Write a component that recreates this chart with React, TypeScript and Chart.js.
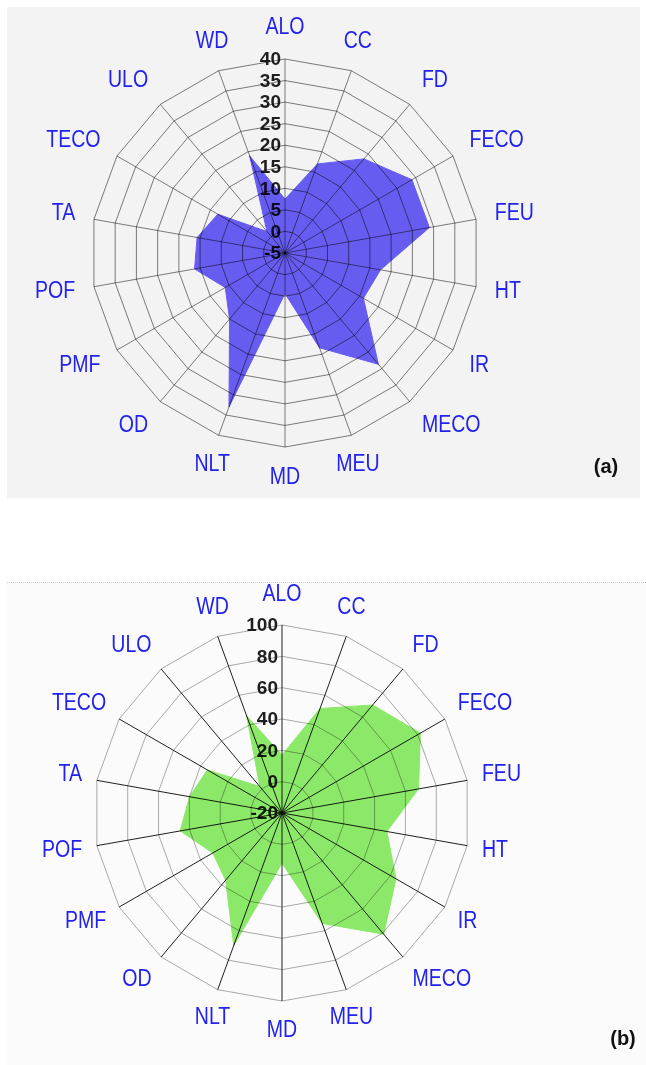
import React, { useEffect, useRef } from 'react';
import { Chart, registerables } from 'chart.js';

Chart.register(...registerables);

// Axis categories, clockwise from the top
const CATEGORIES = ['ALO', 'CC', 'FD', 'FECO', 'FEU', 'HT', 'IR', 'MECO', 'MEU', 'MD', 'NLT', 'OD', 'PMF', 'POF', 'TA', 'TECO', 'ULO', 'WD'];

// Panel (a) values
const VALUES_A = [7.5, 17, 23.5, 29, 29, 17.5, 16, 28.7, 18.4, 4.4, 33, 15, 11, 16.3, 15.7, 13, 1.5, 19];
// Panel (b) values
const VALUES_B = [17, 51, 70, 82, 68.5, 48, 64, 81, 55, 12, 70, 36, 31, 46, 40, 35, 2, 46];

// Radial tick values
const TICKS_A = [-5, 0, 5, 10, 15, 20, 25, 30, 35, 40];
const TICKS_B = [-20, 0, 20, 40, 60, 80, 100];

const LABEL_FONT = "23px 'Liberation Sans', Arial, sans-serif";
const LABEL_SQUEEZE = 0.85; // category names are set in a condensed face
const TICK_FONT = "bold 19px 'Liberation Sans', Arial, sans-serif";

// Writes category names round the web and the tick values up the vertical axis
const spiderText = {
  id: 'spiderText',
  afterDraw(chart: any, _args: any, opts: any) {
    const scale = chart.scales.r;
    const ctx = chart.ctx;
    const R = scale.drawingArea;
    ctx.save();
    ctx.font = LABEL_FONT;
    ctx.fillStyle = opts.labelColor;
    ctx.textBaseline = 'middle';
    chart.data.labels.forEach((lab: string, i: number) => {
      const a = scale.getIndexAngle(i);
      const s = Math.sin(a);
      const c = Math.cos(a);
      const x = scale.xCenter + s * (R + opts.hGap);
      const y = scale.yCenter - c * (R + opts.vGap);
      ctx.save();
      ctx.translate(x, y);
      ctx.scale(LABEL_SQUEEZE, 1);
      ctx.textAlign = Math.abs(s) < 0.4 ? 'center' : s > 0 ? 'left' : 'right';
      ctx.fillText(lab, 0, 0);
      ctx.restore();
    });
    ctx.font = TICK_FONT;
    ctx.fillStyle = opts.tickColor;
    ctx.textAlign = 'right';
    ctx.textBaseline = 'middle';
    (opts.ticks as number[]).forEach((v) => {
      const d = scale.getDistanceFromCenterForValue(v);
      ctx.fillText(String(v), scale.xCenter - 4, scale.yCenter - d + 1);
    });
    ctx.restore();
  },
};

type PanelProps = {
  values: number[];
  ticks: number[];
  fill: string;
  ringColor: string;
  spokeColor: string;
  padding: { left: number; right: number; top: number; bottom: number };
  hGap: number;
  vGap: number;
  top: number;
};

function SpiderPanel(p: PanelProps) {
  const ref = useRef<HTMLCanvasElement>(null);
  useEffect(() => {
    const chart = new Chart(ref.current as HTMLCanvasElement, {
      type: 'radar',
      data: {
        labels: CATEGORIES,
        datasets: [
          {
            data: p.values,
            backgroundColor: p.fill,
            borderColor: p.fill,
            borderWidth: 1,
            pointRadius: 0,
            fill: 'start',
          },
        ],
      },
      options: {
        responsive: false,
        animation: false,
        layout: { padding: p.padding },
        plugins: {
          legend: { display: false },
          tooltip: { enabled: false },
          title: { display: false },
          spiderText: { ticks: p.ticks, hGap: p.hGap, vGap: p.vGap, labelColor: '#2222ee', tickColor: 'rgba(0,0,0,0.88)' },
        } as any,
        scales: {
          r: {
            min: p.ticks[0],
            max: p.ticks[p.ticks.length - 1],
            afterBuildTicks: (s: any) => {
              s.ticks = p.ticks.map((v) => ({ value: v }));
            },
            ticks: { display: false },
            pointLabels: { display: false },
            grid: { color: p.ringColor, lineWidth: 1, z: 1 },
            angleLines: { color: p.spokeColor, lineWidth: 1 },
          } as any,
        },
      },
      plugins: [spiderText],
    });
    return () => chart.destroy();
  }, []);
  return (
    <canvas
      ref={ref}
      width={646}
      height={505}
      style={{ position: 'absolute', left: 0, top: p.top, width: 646, height: 505 }}
    />
  );
}

const tagStyle: React.CSSProperties = {
  position: 'absolute',
  font: "bold 20px 'Liberation Sans', Arial, sans-serif",
  color: '#111',
  transform: 'translate(-50%, -50%)',
  lineHeight: '20px',
};

export default function App() {
  return (
    <div style={{ position: 'absolute', left: 0, top: 0, width: 646, height: 1065, background: '#ffffff', overflow: 'hidden' }}>
      <div style={{ position: 'absolute', left: 7, top: 7, width: 633, height: 491, background: '#f3f3f3' }} />
      <div style={{ position: 'absolute', left: 7, top: 582, width: 639, height: 483, background: '#fbfbfb', borderTop: '1px dotted #c6c6e4' }} />
      <SpiderPanel
        values={VALUES_A}
        ticks={TICKS_A}
        fill="#665cf0"
        ringColor="rgba(0,0,0,0.5)"
        spokeColor="rgba(0,0,0,0.5)"
        padding={{ left: 91, right: 167, top: 59, bottom: 58 }}
        hGap={19}
        vGap={31}
        top={0}
      />
      <SpiderPanel
        values={VALUES_B}
        ticks={TICKS_B}
        fill="#8ce869"
        ringColor="rgba(0,0,0,0.33)"
        spokeColor="rgba(0,0,0,0.88)"
        padding={{ left: 94, right: 175, top: 65, bottom: 63 }}
        hGap={15}
        vGap={30}
        top={560}
      />
      <div style={{ ...tagStyle, left: 606, top: 466 }}>(a)</div>
      <div style={{ ...tagStyle, left: 623, top: 1038 }}>(b)</div>
    </div>
  );
}
